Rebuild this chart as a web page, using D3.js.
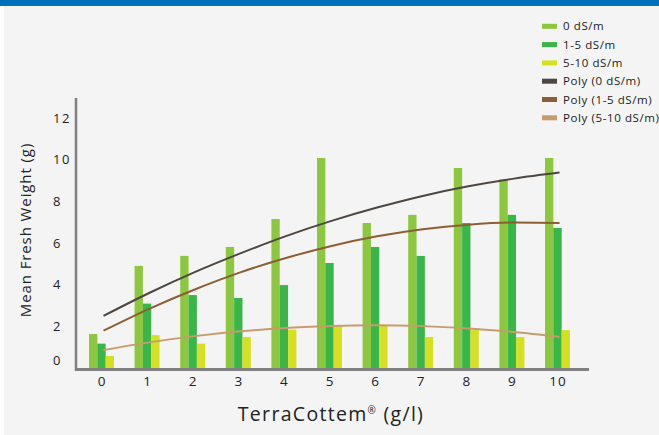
<!DOCTYPE html>
<html>
<head>
<meta charset="utf-8">
<script src="https://cdn.jsdelivr.net/npm/d3@7"></script>
<style>
  body { margin: 0; background: #fff; }
  svg { display: block; font-family: "Open Sans", "DejaVu Sans", sans-serif; }
  .tick text { fill: #222; }
</style>
</head>
<body>
<div id="chart"></div>
<script>
// data
var doses = ["0", "1", "2", "3", "4", "5", "6", "7", "8", "9", "10"];
var series = ["0 dS/m", "1-5 dS/m", "5-10 dS/m"];
var weight0 = [1.63, 4.90, 5.38, 5.81, 7.15, 10.08, 6.96, 7.35, 9.60, 9.06, 10.08];
var weight15 = [1.17, 3.09, 3.50, 3.36, 3.98, 5.04, 5.81, 5.38, 6.96, 7.35, 6.72];
var weight510 = [0.58, 1.58, 1.17, 1.49, 1.84, 2.02, 2.03, 1.49, 1.82, 1.49, 1.82];
var poly0 = [2.50, 3.60, 4.60, 5.50, 6.33, 7.06, 7.70, 8.26, 8.72, 9.09, 9.38];
var poly15 = [1.79, 2.84, 3.77, 4.59, 5.28, 5.86, 6.32, 6.66, 6.88, 6.98, 6.96];
var poly510 = [0.86, 1.23, 1.53, 1.76, 1.92, 2.02, 2.05, 2.01, 1.90, 1.73, 1.50];
var yTicks = [0, 2, 4, 6, 8, 10, 12];
var polyNames = ["Poly (0 dS/m)", "Poly (1-5 dS/m)", "Poly (5-10 dS/m)"];

var barColors = ["#8dc63f", "#39b54a", "#d7df23"];
var lineColors = ["#4f4640", "#8b5e34", "#c69c6d"];

var W = 659, H = 435;
var svg = d3.select("#chart").append("svg")
    .attr("width", W)
    .attr("height", H);

// background + top band
svg.append("rect").attr("x", 4).attr("y", 0).attr("width", W - 4).attr("height", H).attr("fill", "#f4f4f4");
svg.append("rect").attr("x", 0).attr("y", 0).attr("width", W).attr("height", 6).attr("fill", "#0070bb");

var x = d3.scalePoint().domain(doses).range([101.5, 557.5]);
var xSub = d3.scaleBand().domain(series).range([-12.5, 12.5]);
var y = d3.scaleLinear().domain([0, 12]).range([368, 118]);

var barData = [weight0, weight15, weight510];
var polyData = [poly0, poly15, poly510];

// bars
barData.forEach(function(vals, s) {
    svg.append("g").selectAll("rect").data(vals).enter().append("rect")
        .attr("x", function(d, i) { return x(doses[i]) + xSub(series[s]); })
        .attr("y", function(d) { return y(d); })
        .attr("width", xSub.bandwidth())
        .attr("height", function(d) { return y(0) - y(d); })
        .attr("fill", barColors[s]);
});

// trend lines
var line = d3.line()
    .x(function(d, i) { return x(doses[i]) + 2; })
    .y(function(d) { return y(d); })
    .curve(d3.curveMonotoneX);

polyData.forEach(function(vals, s) {
    svg.append("path")
        .datum(vals)
        .attr("d", line)
        .attr("fill", "none")
        .attr("stroke", lineColors[s])
        .attr("stroke-width", 2);
});

// axis lines
svg.append("line").attr("x1", 76).attr("x2", 76).attr("y1", 98).attr("y2", 371)
    .attr("stroke", "#808080").attr("stroke-width", 2.5);
svg.append("line").attr("x1", 75).attr("x2", 589).attr("y1", 369.5).attr("y2", 369.5)
    .attr("stroke", "#808080").attr("stroke-width", 3);

// y ticks
var yAxis = svg.append("g")
    .attr("transform", "translate(53,0)")
    .call(d3.axisLeft(y).tickValues(yTicks).tickSize(0).tickPadding(0));
yAxis.select(".domain").remove();
yAxis.selectAll("text")
    .attr("text-anchor", "start")
    .attr("font-size", 13)
    .attr("font-family", "Open Sans")
    .attr("letter-spacing", 1.5)
    .attr("dy", function(d) { return d === 0 ? "-0.3em" : "0.32em"; });

// x ticks
var xAxis = svg.append("g")
    .attr("transform", "translate(0,376)")
    .call(d3.axisBottom(x).tickSize(0).tickPadding(0));
xAxis.select(".domain").remove();
xAxis.selectAll("text")
    .attr("font-size", 13.5)
    .attr("font-family", "Open Sans")
    .attr("letter-spacing", 1);

// axis titles
svg.append("text")
    .attr("transform", "translate(31,230) rotate(-90)")
    .attr("text-anchor", "middle")
    .attr("font-size", 15)
    .attr("letter-spacing", 0.9)
    .attr("fill", "#222")
    .text("Mean Fresh Weight (g)");

var xt = svg.append("text")
    .attr("x", 331)
    .attr("y", 421)
    .attr("text-anchor", "middle")
    .attr("font-size", 19.5)
    .attr("letter-spacing", 1.3)
    .attr("fill", "#222");
xt.append("tspan").text("TerraCottem");
xt.append("tspan").attr("font-size", 10).attr("dy", -7).text("®");
xt.append("tspan").attr("dy", 7).text(" (g/l)");

// legend
var legendItems = series.map(function(d, i) { return { name: d, color: barColors[i] }; })
    .concat(polyNames.map(function(d, i) { return { name: d, color: lineColors[i] }; }));

var legend = svg.append("g").selectAll("g").data(legendItems).enter().append("g")
    .attr("transform", function(d, i) { return "translate(542," + (26.3 + i * 18.3) + ")"; });
legend.append("rect")
    .attr("x", 0).attr("y", -2.5)
    .attr("width", 15).attr("height", 5)
    .attr("fill", function(d) { return d.color; });
legend.append("text")
    .attr("x", 21)
    .attr("dy", "0.35em")
    .attr("font-size", 11.5)
    .attr("letter-spacing", 0.6)
    .attr("fill", "#222")
    .text(function(d) { return d.name; });
</script>
</body>
</html>
